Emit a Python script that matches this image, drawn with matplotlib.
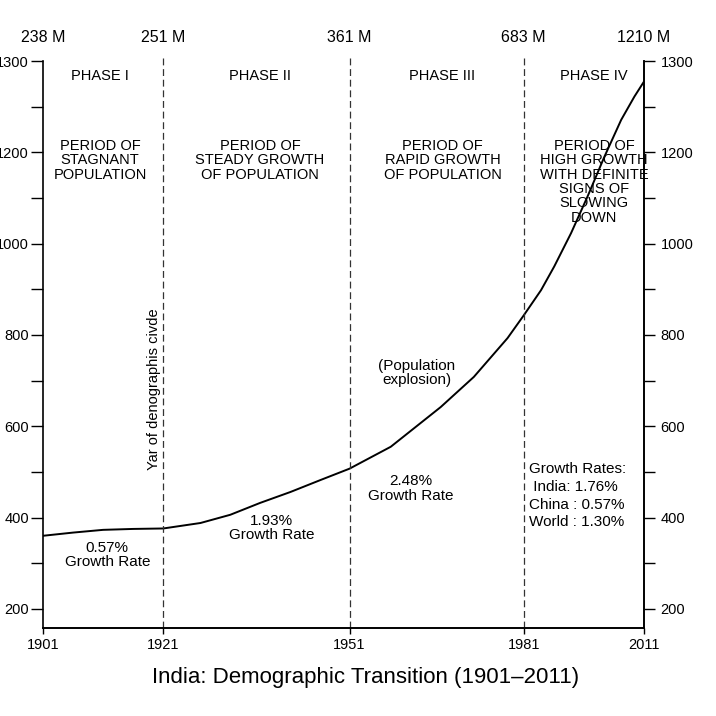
import numpy as np
import matplotlib
matplotlib.use('Agg')
from matplotlib import pyplot as plt

plt.rcParams['font.family'] = ['Liberation Sans', 'DejaVu Sans']

# census years used as breakpoints and their population totals
years = [1901, 1921, 1951, 1981, 2011]
pop_labels = ['238 M', '251 M', '361 M', '683 M', '1210 M']

# curve (axis units)
curve_years = [1901, 1906, 1911, 1916, 1921, 1927, 1931.8, 1936.6, 1941.5,
               1946.3, 1951, 1958.1, 1966.7, 1972.4, 1978.2, 1981, 1985.3,
               1988.6, 1992.8, 1996.9, 2001.1, 2005.3, 2008.6, 2011]
curve_vals = [360, 367, 373, 375, 376, 388, 406, 432, 456,
              482, 507, 555, 642, 708, 793, 843, 898,
              950, 1023, 1103, 1190, 1271, 1322, 1355]

phases = ['PHASE I', 'PHASE II', 'PHASE III', 'PHASE IV']
periods = ['PERIOD OF\nSTAGNANT\nPOPULATION',
           'PERIOD OF\nSTEADY GROWTH\nOF POPULATION',
           'PERIOD OF\nRAPID GROWTH\nOF POPULATION',
           'PERIOD OF\nHIGH GROWTH\nWITH DEFINITE\nSIGNS OF\nSLOWING\nDOWN']
rates = ['0.57%\nGrowth Rate', '1.93%\nGrowth Rate', '2.48%\nGrowth Rate']
compare = 'Growth Rates:\n India: 1.76%\nChina : 0.57%\nWorld : 1.30%'

yticks = [200, 400, 600, 800, 1000, 1200, 1400]
ytick_labels = ['200', '400', '600', '800', '1000', '1200', '1300']
yminor = [300, 500, 700, 900, 1100, 1300]

# the schematic x axis is not evenly spaced
x_layout = [0, 120, 306, 480, 600]


def fwd(x):
    return np.interp(x, years, x_layout)


def inv(x):
    return np.interp(x, x_layout, years)


fig = plt.figure(figsize=(7.16, 7.16), dpi=100)
ax = fig.add_axes([43 / 716, 88 / 716, 601 / 716, 567 / 716])
ax.set_xscale('function', functions=(fwd, inv))
ax.set_xlim(1901, 2011)
ax.set_ylim(158, 1400)

ax.plot(curve_years, curve_vals, color='black', lw=1.4)
ax.vlines(years[1:4], 158, 1410, colors='#333333', linestyles=(0, (5.5, 3)),
          lw=0.9, clip_on=False)

ax.spines['top'].set_visible(False)
for s in ax.spines.values():
    s.set_linewidth(1.2)
ax.set_xticks(years)
ax.set_xticklabels([str(y) for y in years])
ax.set_yticks(yticks)
ax.set_yticklabels(ytick_labels)
ax.set_yticks(yminor, minor=True)
ax.tick_params(axis='x', length=4, width=1, labelsize=10.5, pad=3)
ax.tick_params(axis='y', which='both', length=9, width=1, labelsize=10.5, pad=1)

ax2 = ax.twinx()
ax2.set_ylim(ax.get_ylim())
ax2.spines['top'].set_visible(False)
ax2.spines['left'].set_visible(False)
for s in ax2.spines.values():
    s.set_linewidth(1.2)
ax2.set_yticks(yticks)
ax2.set_yticklabels(ytick_labels)
ax2.set_yticks(yminor, minor=True)
ax2.tick_params(axis='y', which='both', length=8, width=1, labelsize=10.5, pad=4)

for yr, lab in zip(years, pop_labels):
    ax.text(yr, 1452, lab, ha='center', va='center', fontsize=11.5, clip_on=False)

phase_x = [1910.5, 1936.6, 1967, 1998.5]
for px, ph, per in zip(phase_x, phases, periods):
    ax.text(px, 1367, ph, ha='center', va='center', fontsize=10.5)
    ax.text(px, 1229, per, ha='center', va='top', fontsize=10.5, linespacing=1.03)

rate_pos = [(1911.7, 318), (1938.4, 377), (1961.5, 463)]
for (rx, ry), txt in zip(rate_pos, rates):
    ax.text(rx, ry, txt, ha='center', va='center', fontsize=11, linespacing=1.05)

ax.text(1962.6, 717, '(Population\nexplosion)', ha='center', va='center',
        fontsize=11, linespacing=1.05)
ax.text(1982.2, 522, compare, ha='left', va='top', fontsize=11, linespacing=1.35)
ax.text(1919.4, 682, 'Yar of denographis civde', rotation=90, ha='center',
        va='center', fontsize=10.5)

fig.text(0.511, 1 - 678 / 716, 'India: Demographic Transition (1901\u20132011)',
         ha='center', va='center', fontsize=16)

plt.savefig('out.png', dpi=100)
